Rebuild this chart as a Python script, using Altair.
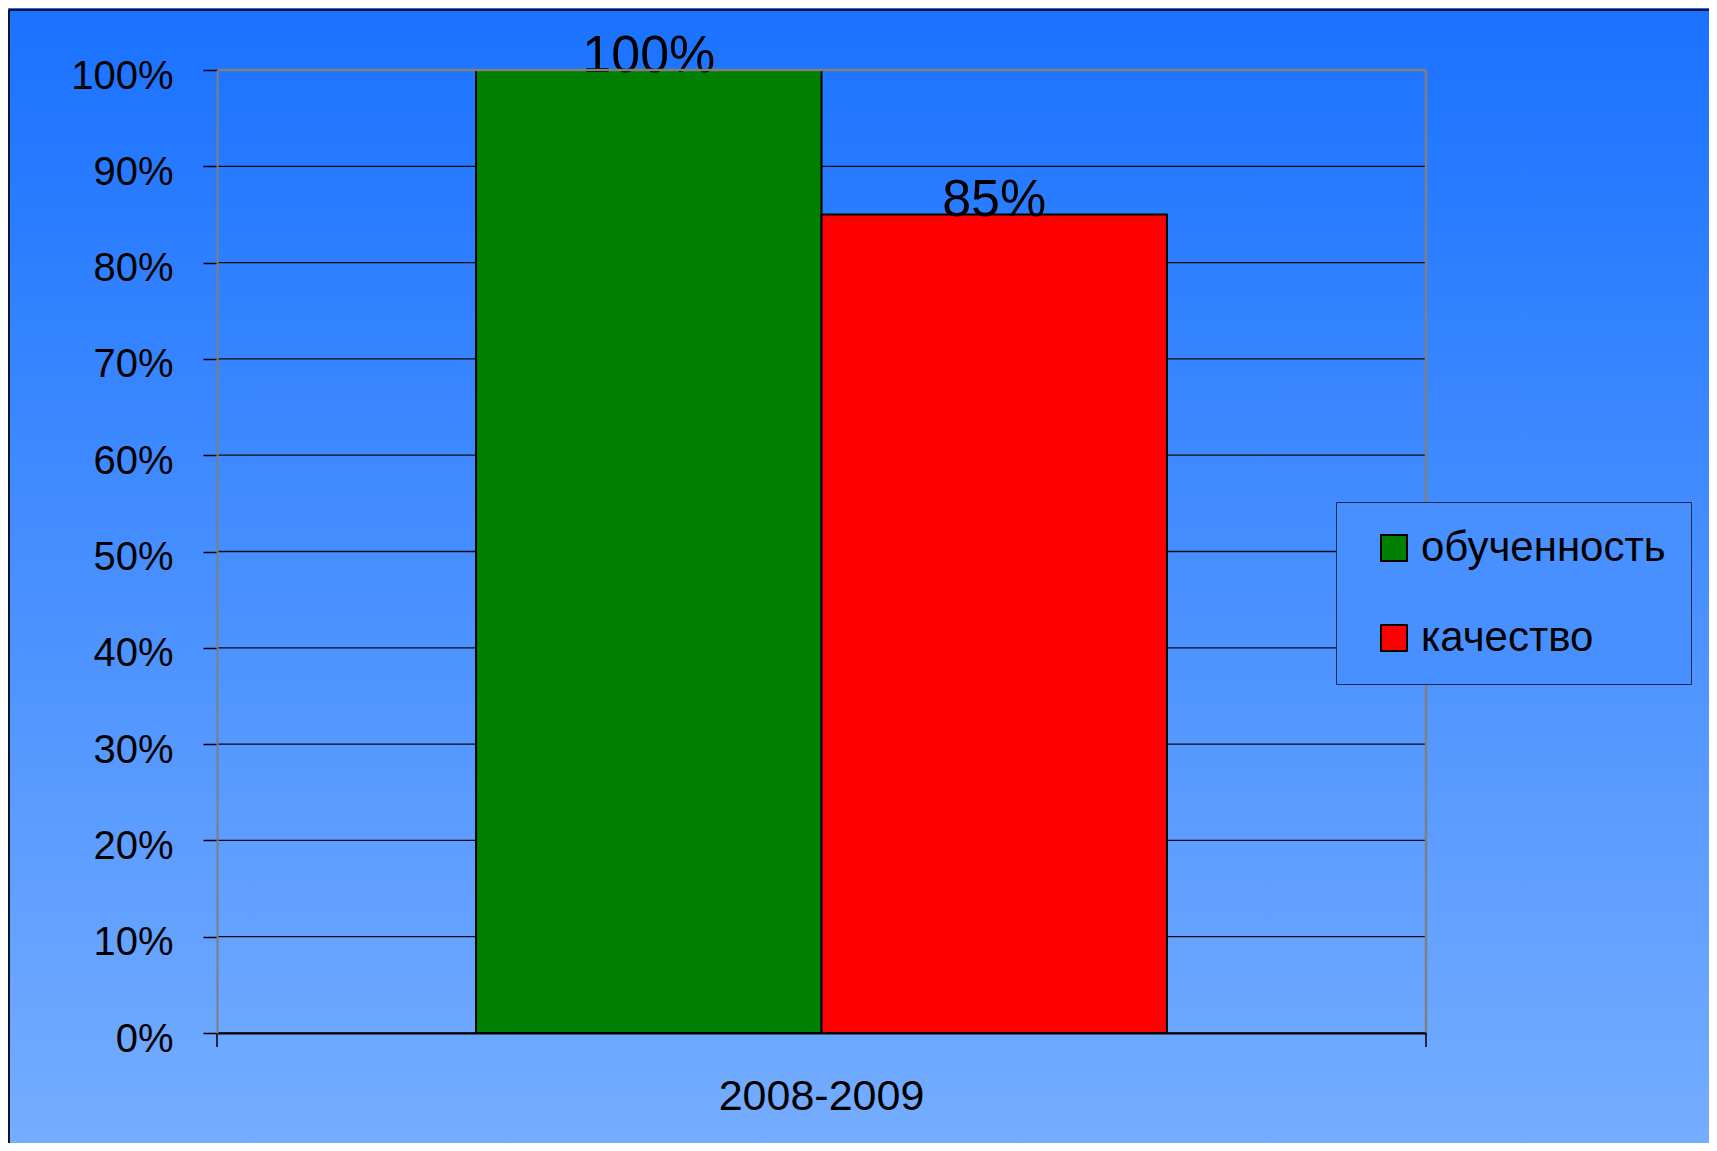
import altair as alt
import pandas as pd

# ---- data ----
years = ["2008-2009", "2008-2009"]
series = ["обученность", "качество"]
values = [1.00, 0.85]
bar_colors = ["#008000", "#ff0000"]
y_ticks = [0.0, 0.1, 0.2, 0.3, 0.4, 0.5, 0.6, 0.7, 0.8, 0.9, 1.0]

# ---- layout ----
W, H = 1209, 963
PL, PT, PR, PB = 209, 62, 283, 110
FONT = "Liberation Sans"

df = pd.DataFrame({"year": years, "series": series, "value": values})
grid_df = pd.DataFrame({"value": y_ticks})
one = pd.DataFrame({"k": [0]})

ydom = alt.Scale(domain=[0, 1])
yaxis = alt.Axis(title=None, format=".0%", values=y_ticks, grid=False,
                 domainColor="#7f7f7f", domainWidth=2,
                 tickColor="black", tickSize=14, tickWidth=1.5,
                 labelFont=FONT, labelFontSize=40, labelColor="black",
                 labelPadding=30, labelOffset=6, zindex=1)

bg = alt.Chart(one).mark_rect(
    fill=alt.Gradient(
        gradient="linear",
        stops=[alt.GradientStop(color="#1a72ff", offset=0),
               alt.GradientStop(color="#75adff", offset=1)],
        x1=0, x2=0, y1=0, y2=1),
    strokeWidth=0,
).encode(
    x=alt.value(-PL), x2=alt.value(W + PR),
    y=alt.value(-PT), y2=alt.value(H + PB),
)

grid = alt.Chart(grid_df).mark_rule(color="#0b0b14", strokeWidth=1.3).encode(
    y=alt.Y("value:Q", scale=ydom, axis=yaxis)
)

base = alt.Chart(df).encode(
    x=alt.X("year:N", title=None,
            scale=alt.Scale(paddingInner=0, paddingOuter=0),
            axis=alt.Axis(title=None, ticks=False, domainColor="black", domainWidth=2,
                          labelFont=FONT, labelFontSize=43, labelColor="black",
                          labelPadding=42, labelAngle=0, labelLimit=600, zindex=1)),
    xOffset=alt.XOffset("series:N", sort=series,
                        scale=alt.Scale(domain=series, paddingOuter=0.75, paddingInner=0)),
    y=alt.Y("value:Q", scale=ydom, axis=yaxis),
)

bars = base.mark_bar(stroke="black", strokeWidth=2).encode(
    color=alt.Color("series:N", sort=series,
                    scale=alt.Scale(domain=series, range=bar_colors),
                    legend=alt.Legend(title=None, orient="none", legendX=1119, legendY=432,
                                      symbolType="square", symbolSize=676,
                                      symbolStrokeColor="black", symbolStrokeWidth=2,
                                      symbolOffset=12,
                                      labelFont=FONT, labelFontSize=42, labelColor="black",
                                      labelOffset=6, rowPadding=48, padding=25,
                                      labelLimit=600,
                                      fillColor="#4890ff", strokeColor="#1c2b4a",
                                      zindex=1))
)

labels = base.mark_text(font=FONT, fontSize=52, baseline="alphabetic", dy=2,
                        color="black", align="center").encode(
    text=alt.Text("value:Q", format=".0%")
)

top_border = alt.Chart(one).mark_rule(color="#7f7f7f", strokeWidth=2.5).encode(
    x=alt.value(0), x2=alt.value(W), y=alt.value(0)
)
right_border = alt.Chart(one).mark_rule(color="#7f7f7f", strokeWidth=2.5).encode(
    x=alt.value(W), y=alt.value(0), y2=alt.value(H)
)
xtick_l = alt.Chart(one).mark_rule(color="black", strokeWidth=1.5).encode(
    x=alt.value(0), y=alt.value(H), y2=alt.value(H + 14)
)
xtick_r = alt.Chart(one).mark_rule(color="black", strokeWidth=1.5).encode(
    x=alt.value(W), y=alt.value(H), y2=alt.value(H + 14)
)
frame_top = alt.Chart(one).mark_rule(color="#0a1430", strokeWidth=2).encode(
    x=alt.value(-PL + 1), x2=alt.value(W + PR), y=alt.value(-PT + 2)
)
frame_left = alt.Chart(one).mark_rule(color="#0a1430", strokeWidth=2).encode(
    x=alt.value(-PL + 1), y=alt.value(-PT + 2), y2=alt.value(H + PB)
)

chart = alt.layer(
    bg, grid, bars, labels, top_border, right_border, xtick_l, xtick_r, frame_top, frame_left
).properties(
    width=W, height=H,
    autosize=alt.AutoSizeParams(type="none"),
    padding={"left": PL, "top": PT, "right": PR, "bottom": PB},
).configure_view(stroke=None)

chart.save("out.html", embed_options={"renderer": "svg", "actions": False})
